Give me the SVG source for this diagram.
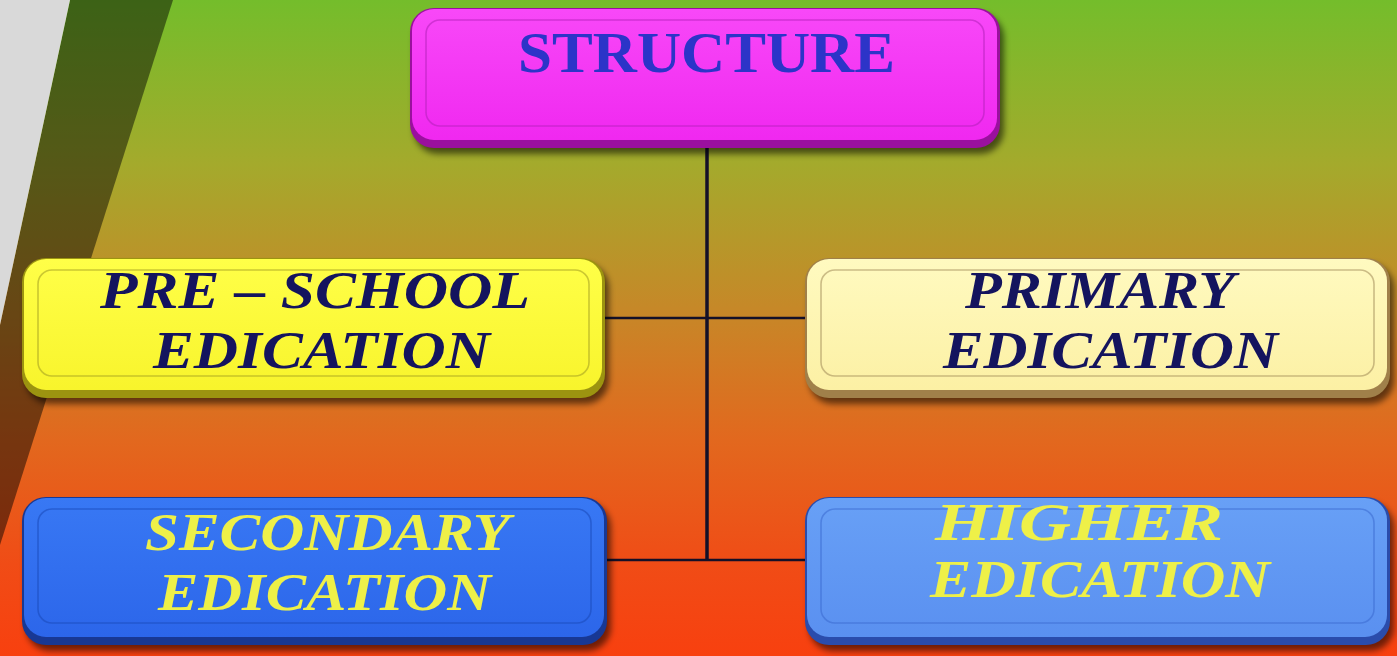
<svg xmlns="http://www.w3.org/2000/svg" width="1397" height="656" viewBox="0 0 1397 656">
<defs>
<linearGradient id="bg" x1="0" y1="0" x2="0" y2="656" gradientUnits="userSpaceOnUse">
<stop offset="0" stop-color="#74bd2b"/>
<stop offset="0.25" stop-color="#a4aa2c"/>
<stop offset="0.47" stop-color="#c68828"/>
<stop offset="0.67" stop-color="#e2681e"/>
<stop offset="0.86" stop-color="#f04c16"/>
<stop offset="1" stop-color="#f8400f"/>
</linearGradient>
<filter id="sh" x="-10%" y="-20%" width="120%" height="150%">
<feGaussianBlur stdDeviation="3"/>
</filter>
<linearGradient id="gMag" x1="0" y1="0" x2="0" y2="1">
<stop offset="0" stop-color="#f848f8"/><stop offset="1" stop-color="#f028f0"/>
</linearGradient>
<linearGradient id="gYel" x1="0" y1="0" x2="0" y2="1">
<stop offset="0" stop-color="#ffff48"/><stop offset="1" stop-color="#f8f42c"/>
</linearGradient>
<linearGradient id="gCre" x1="0" y1="0" x2="0" y2="1">
<stop offset="0" stop-color="#fffac0"/><stop offset="1" stop-color="#fcf0a4"/>
</linearGradient>
<linearGradient id="gBlu" x1="0" y1="0" x2="0" y2="1">
<stop offset="0" stop-color="#3878f4"/><stop offset="1" stop-color="#2c66ea"/>
</linearGradient>
<linearGradient id="gLbl" x1="0" y1="0" x2="0" y2="1">
<stop offset="0" stop-color="#68a0f6"/><stop offset="1" stop-color="#5a90f0"/>
</linearGradient>
</defs>
<style>
.shadow{fill:#000;opacity:.55;filter:url(#sh)}
.bevel{fill:none;stroke-width:1.6;opacity:.55}
.t{font-family:"Liberation Serif","Times New Roman",serif;font-weight:bold}
.it{font-style:italic}
.navy{fill:#14145e}
.ylw{fill:#eef048}
.conn{stroke:#141028;fill:none}
</style>

<!-- background -->
<rect x="0" y="0" width="1397" height="656" fill="url(#bg)"/>
<polygon points="70,0 173,0 0,545 0,325" fill="#000" opacity="0.48"/>
<polygon points="0,0 70,0 0,325" fill="#d9d9d9"/>

<!-- connectors -->
<g id="connectors">
<line class="conn" x1="707" y1="146" x2="707" y2="561" stroke-width="3.5"/>
<line class="conn" x1="600" y1="318" x2="810" y2="318" stroke-width="2.5"/>
<line class="conn" x1="600" y1="560" x2="810" y2="560" stroke-width="2.5"/>
</g>

<!-- STRUCTURE -->
<g id="structure">
<rect class="shadow" x="414" y="14" width="590" height="140" rx="24"/>
<rect x="410" y="8" width="590" height="140" rx="24" fill="#9a109e"/>
<rect x="412" y="9" width="585" height="131" rx="22" fill="url(#gMag)"/>
<rect class="bevel" x="426" y="20" width="558" height="106" rx="14" stroke="#b020b8"/>
<text class="t" x="518" y="72" font-size="58" textLength="377" lengthAdjust="spacingAndGlyphs" fill="#2c34c8">STRUCTURE</text>
</g>

<!-- PRE-SCHOOL -->
<g id="preschool">
<rect class="shadow" x="26" y="264" width="583" height="140" rx="24"/>
<rect x="22" y="258" width="583" height="140" rx="24" fill="#9c9410"/>
<rect x="24" y="259" width="578" height="131" rx="22" fill="url(#gYel)"/>
<rect class="bevel" x="38" y="270" width="551" height="106" rx="14" stroke="#a09a20"/>
<text class="t it navy" x="100" y="308" font-size="52" textLength="430" lengthAdjust="spacingAndGlyphs">PRE – SCHOOL</text>
<text class="t it navy" x="153" y="368" font-size="52" textLength="337" lengthAdjust="spacingAndGlyphs">EDICATION</text>
</g>

<!-- PRIMARY -->
<g id="primary">
<rect class="shadow" x="809" y="264" width="585" height="140" rx="24"/>
<rect x="805" y="258" width="585" height="140" rx="24" fill="#a0804a"/>
<rect x="807" y="259" width="580" height="131" rx="22" fill="url(#gCre)"/>
<rect class="bevel" x="821" y="270" width="553" height="106" rx="14" stroke="#a08a58"/>
<text class="t it navy" x="965" y="308" font-size="52" textLength="270" lengthAdjust="spacingAndGlyphs">PRIMARY</text>
<text class="t it navy" x="943" y="368" font-size="52" textLength="335" lengthAdjust="spacingAndGlyphs">EDICATION</text>
</g>

<!-- SECONDARY -->
<g id="secondary">
<rect class="shadow" x="26" y="503" width="585" height="148" rx="24"/>
<rect x="22" y="497" width="585" height="148" rx="24" fill="#183894"/>
<rect x="24" y="498" width="580" height="139" rx="22" fill="url(#gBlu)"/>
<rect class="bevel" x="38" y="509" width="553" height="114" rx="14" stroke="#1a48b8"/>
<text class="t it ylw" x="145" y="550" font-size="52" textLength="365" lengthAdjust="spacingAndGlyphs">SECONDARY</text>
<text class="t it ylw" x="158" y="610" font-size="52" textLength="333" lengthAdjust="spacingAndGlyphs">EDICATION</text>
</g>

<!-- HIGHER -->
<g id="higher">
<rect class="shadow" x="809" y="503" width="585" height="148" rx="24"/>
<rect x="805" y="497" width="585" height="148" rx="24" fill="#2a4cac"/>
<rect x="807" y="498" width="580" height="139" rx="22" fill="url(#gLbl)"/>
<rect class="bevel" x="821" y="509" width="553" height="114" rx="14" stroke="#3a6ad0"/>
<text class="t it ylw" x="935" y="540" font-size="52" textLength="288" lengthAdjust="spacingAndGlyphs">HIGHER</text>
<text class="t it ylw" x="930" y="597" font-size="52" textLength="340" lengthAdjust="spacingAndGlyphs">EDICATION</text>
</g>
</svg>
